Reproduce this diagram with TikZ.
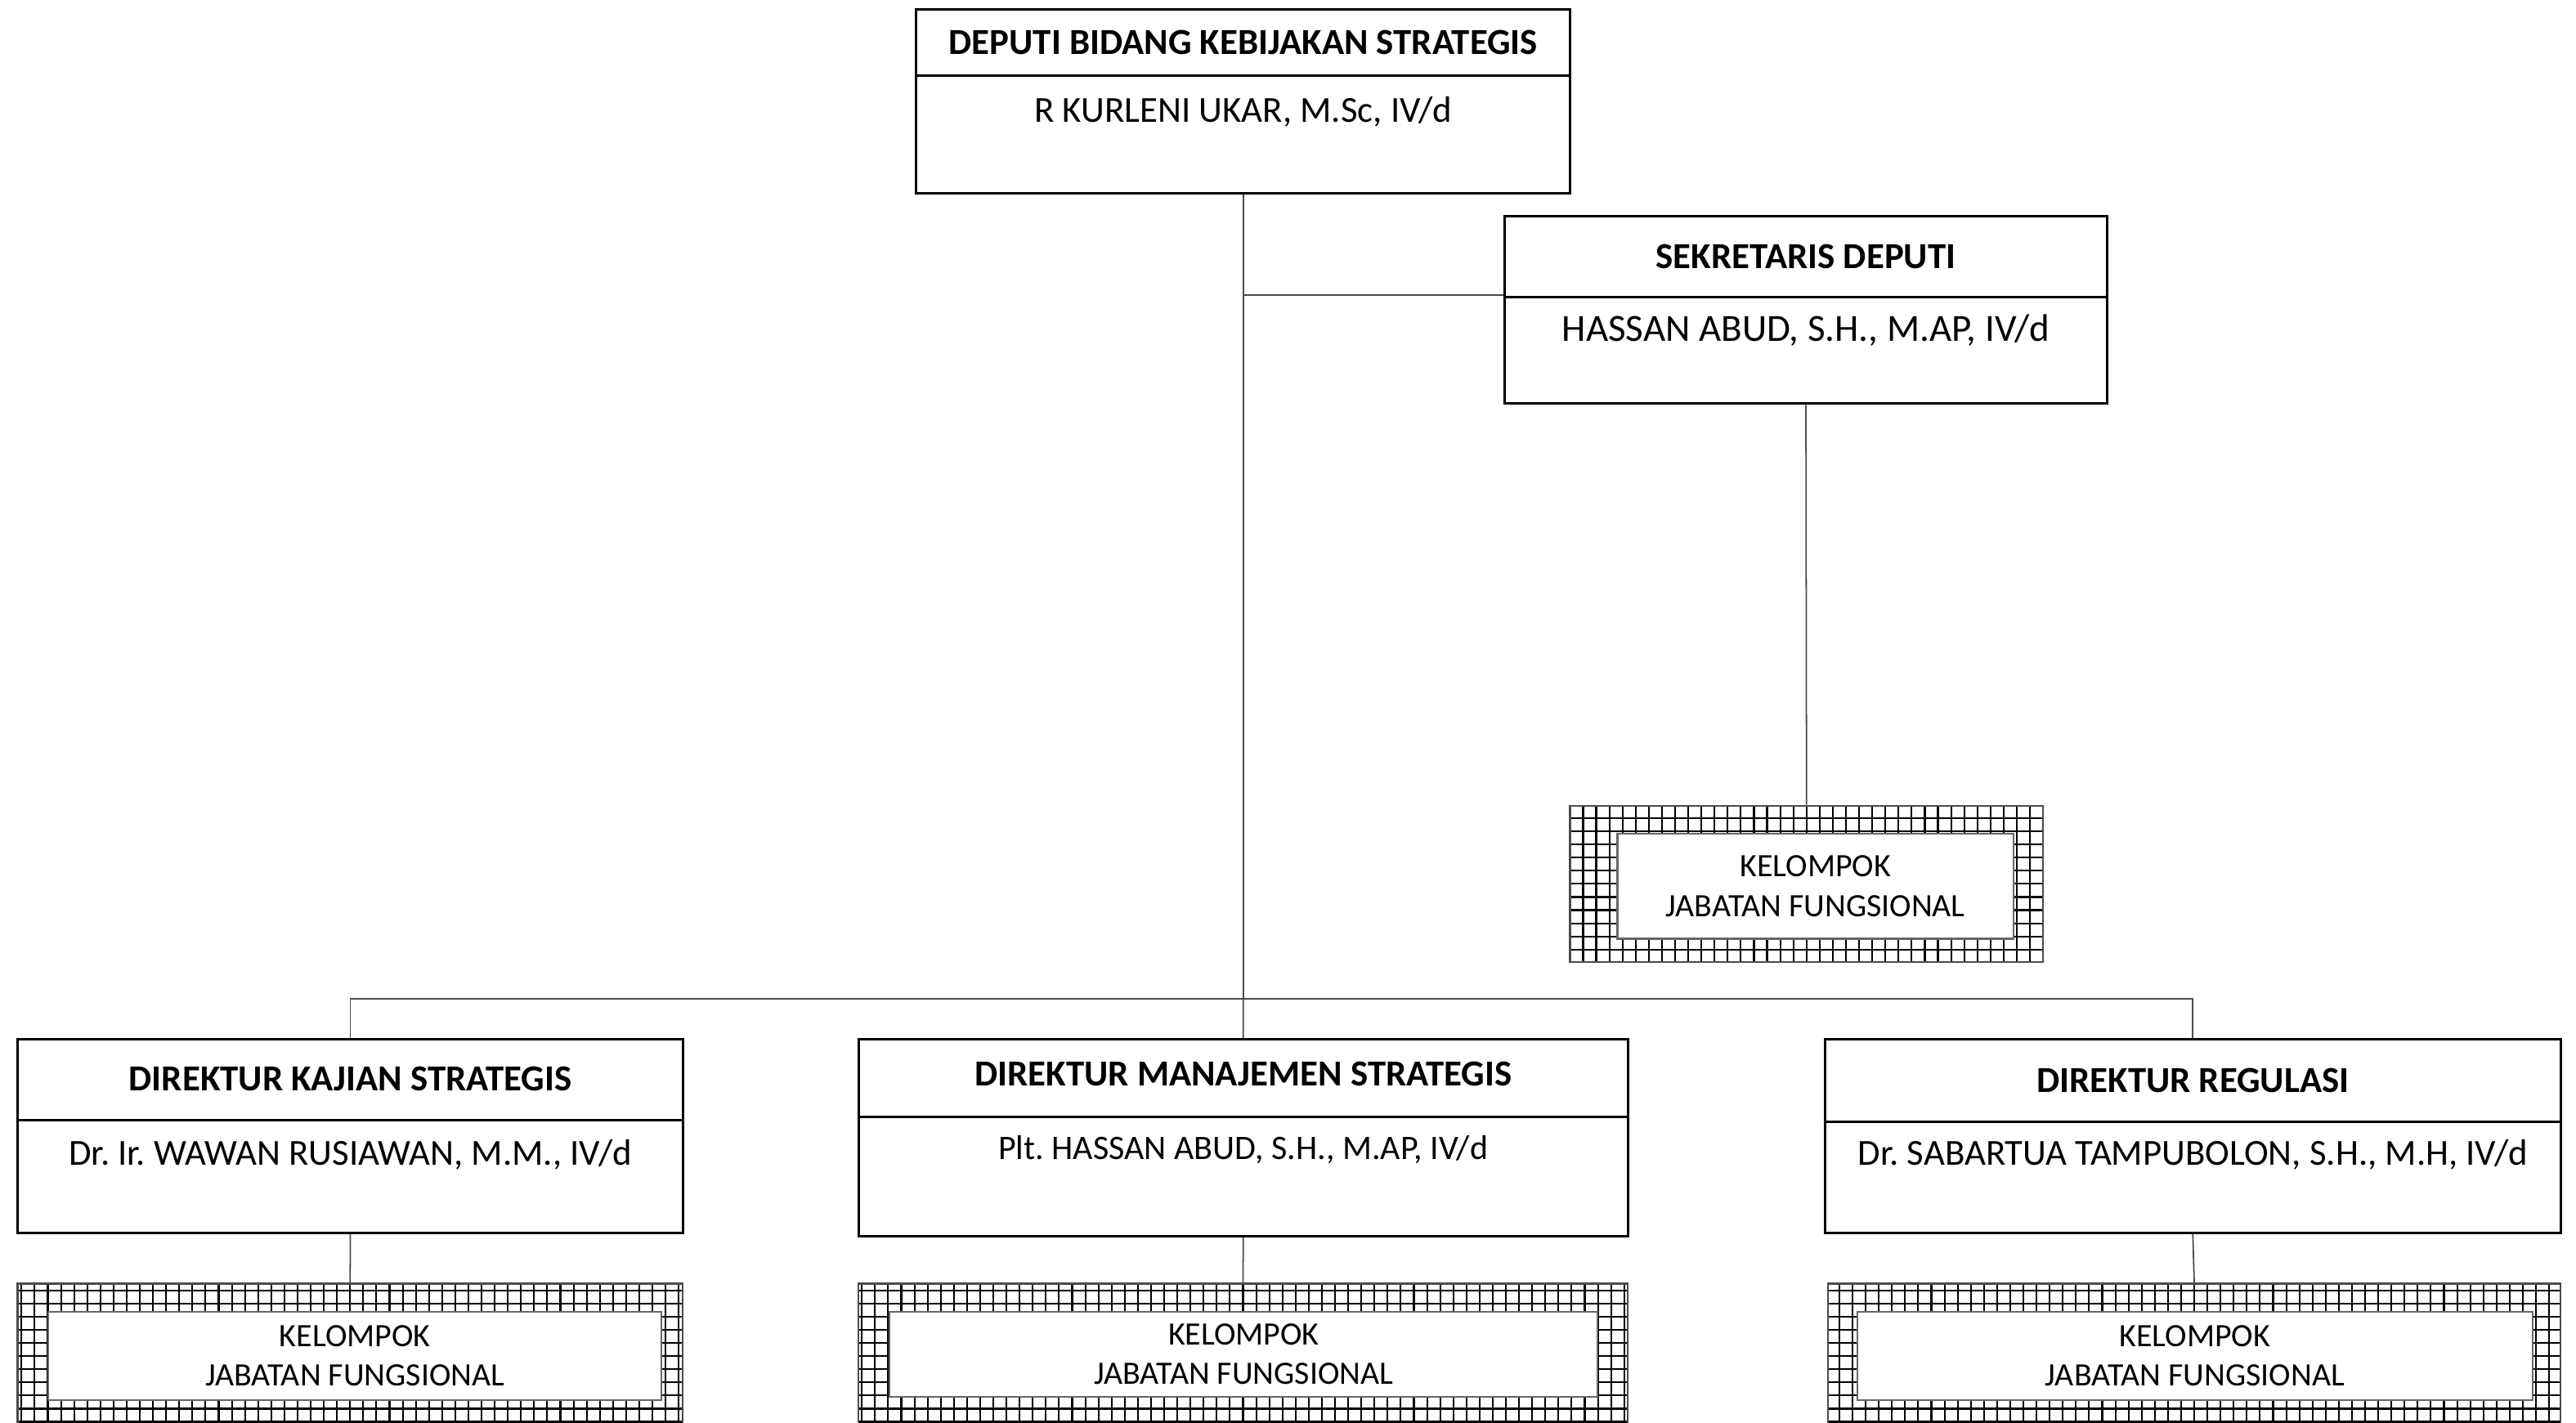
\documentclass[tikz,border=0pt]{standalone}
\usepackage{fontspec}
\setmainfont{Carlito}
\frenchspacing
\usetikzlibrary{calc,positioning}
\tikzset{
  unitbox/.style={
    draw,
    line width=0.85pt,
    inner sep=0pt,
    anchor=north west
  },
  divider/.style={draw, line width=0.85pt},
  link/.style={draw=black!70, line width=0.5pt},
  headtext/.style={font=\fontsize{12.7}{15}\selectfont\bfseries},
  persontext/.style={font=\fontsize{12.7}{15}\selectfont},
  kjfouter/.style={
    unitbox,
    draw=black!70,
    line width=0.7pt,
    path picture={
      \draw[black, line width=0.6pt]
        (path picture bounding box.south west) grid[step=1.6mm]
        (path picture bounding box.north east);
    }
  },
  kjfinner/.style={
    draw=black!60,
    line width=0.6pt,
    fill=white,
    anchor=north west,
    align=center,
    inner sep=0pt,
    font=\fontsize{11.3}{13.7}\selectfont
  }
}

\begin{document}
\begin{tikzpicture}[x=0.2mm,y=-0.2mm]
  \useasboundingbox (0,0) rectangle (1568,866);
  \clip (0,0) rectangle (1568,866);

  % deputi and sekretaris
  \node (deputi) [unitbox, minimum width=79.6mm, minimum height=22.4mm] at (557,5) {};
  \draw[divider] ([yshift=-8.2mm]deputi.north west) -- ([yshift=-8.2mm]deputi.north east);
  \node (deputi_head) [headtext] at ([yshift=-4.2mm]deputi.north) {DEPUTI BIDANG KEBIJAKAN STRATEGIS};
  \node (deputi_name) [persontext] at ([yshift=-12.6mm]deputi.north) {R KURLENI UKAR, M.Sc, IV/d};

  \node (sekretaris) [unitbox, minimum width=73.4mm, minimum height=22.8mm] at (915,131) {};
  \draw[divider] ([yshift=-10mm]sekretaris.north west) -- ([yshift=-10mm]sekretaris.north east);
  \node (sekretaris_head) [headtext] at ([yshift=-5mm]sekretaris.north) {SEKRETARIS DEPUTI};
  \node (sekretaris_name) [persontext, font=\fontsize{13.3}{16}\selectfont] at ([yshift=-14mm]sekretaris.north) {HASSAN ABUD, S.H., M.AP, IV/d};

  \node (kjf_sek) [kjfouter, minimum width=57.6mm, minimum height=19mm] at (955,490) {};
  \node (kjf_sek_label) [kjfinner, minimum width=48.2mm, minimum height=12.8mm] at (984,507) {KELOMPOK\\JABATAN FUNGSIONAL};

  % direktur
  \node (kajian) [unitbox, minimum width=81mm, minimum height=23.6mm] at (10,632) {};
  \draw[divider] ([yshift=-10mm]kajian.north west) -- ([yshift=-10mm]kajian.north east);
  \node (kajian_head) [headtext] at ([yshift=-5mm]kajian.north) {DIREKTUR KAJIAN STRATEGIS};
  \node (kajian_name) [persontext] at ([yshift=-14.2mm]kajian.north) {Dr. Ir. WAWAN RUSIAWAN, M.M., IV/d};

  \node (manajemen) [unitbox, minimum width=93.6mm, minimum height=24mm] at (522,632) {};
  \draw[divider] ([yshift=-9.6mm]manajemen.north west) -- ([yshift=-9.6mm]manajemen.north east);
  \node (manajemen_head) [headtext] at ([yshift=-4.4mm]manajemen.north) {DIREKTUR MANAJEMEN STRATEGIS};
  \node (manajemen_name) [persontext, font=\fontsize{11.9}{14}\selectfont] at ([yshift=-13.6mm]manajemen.north) {Plt. HASSAN ABUD, S.H., M.AP, IV/d};

  \node (regulasi) [unitbox, minimum width=89.6mm, minimum height=23.6mm] at (1110,632) {};
  \draw[divider] ([yshift=-10.2mm]regulasi.north west) -- ([yshift=-10.2mm]regulasi.north east);
  \node (regulasi_head) [headtext] at ([yshift=-5.2mm]regulasi.north) {DIREKTUR REGULASI};
  \node (regulasi_name) [persontext] at ([yshift=-14.2mm]regulasi.north) {Dr. SABARTUA TAMPUBOLON, S.H., M.H, IV/d};

  % kelompok jabatan fungsional
  \node (kjf_kajian) [kjfouter, minimum width=81mm, minimum height=24mm] at (10,781) {};
  \node (kjf_kajian_label) [kjfinner, minimum width=74.6mm, minimum height=10.8mm] at (29,798) {KELOMPOK\\JABATAN FUNGSIONAL};

  \node (kjf_manajemen) [kjfouter, minimum width=93.6mm, minimum height=24mm] at (522,781) {};
  \node (kjf_manajemen_label) [kjfinner, minimum width=86.2mm, minimum height=10.4mm] at (541,798) {KELOMPOK\\JABATAN FUNGSIONAL};

  \node (kjf_regulasi) [kjfouter, minimum width=89.2mm, minimum height=24mm] at (1112,781) {};
  \node (kjf_regulasi_label) [kjfinner, minimum width=82.2mm, minimum height=10.8mm] at (1130,798) {KELOMPOK\\JABATAN FUNGSIONAL};

  % lines
  \coordinate (bus) at (deputi.south |- 0,608);
  \draw[link] (deputi.south) -- (bus);
  \draw[link] ([yshift=1.8mm]sekretaris.west) -- ([yshift=1.8mm]sekretaris.west -| deputi.south);
  \draw[link] (kajian.north) |- (bus) -| (regulasi.north);
  \draw[link] (bus) -- (manajemen.north);
  \draw[link] (sekretaris.south) -- (kjf_sek.north);
  \draw[link] (kajian.south) -- (kjf_kajian.north);
  \draw[link] (manajemen.south) -- (kjf_manajemen.north);
  \draw[link] (regulasi.south) -- (kjf_regulasi.north);
\end{tikzpicture}
\end{document}
